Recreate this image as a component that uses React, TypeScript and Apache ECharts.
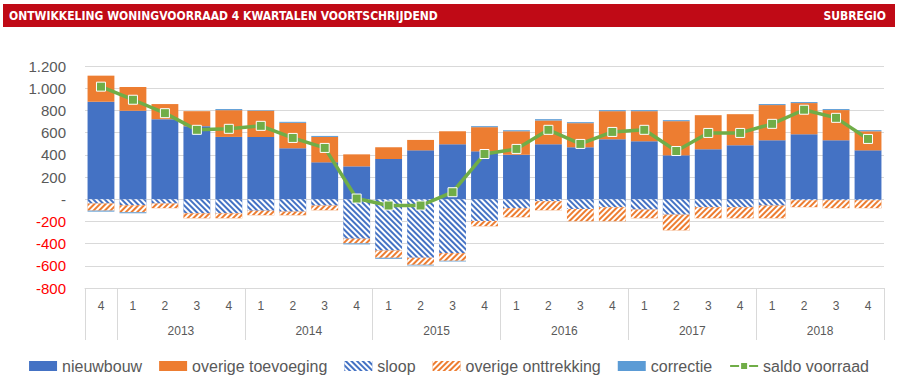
import React, { useEffect, useRef } from "react";
import * as echarts from "echarts";

const quarters = ["4", "1", "2", "3", "4", "1", "2", "3", "4", "1", "2", "3", "4", "1", "2", "3", "4", "1", "2", "3", "4", "1", "2", "3", "4"];
const years = ["2013", "2014", "2015", "2016", "2017", "2018"];

const nieuwbouw = [878, 796, 721, 658, 561, 561, 459, 332, 296, 362, 440, 495, 431, 401, 495, 468, 540, 522, 395, 450, 486, 531, 585, 531, 440];
const overigeToevoeging = [235, 215, 136, 135, 241, 236, 229, 229, 108, 106, 94, 117, 218, 211, 214, 217, 253, 271, 308, 307, 280, 317, 281, 272, 172];
const sloop = [-39, -54, -39, -127, -127, -103, -112, -57, -356, -462, -528, -486, -196, -81, -18, -88, -72, -94, -139, -72, -72, -57, -9, -9, -9];
const overigeOnttrekking = [-64, -64, -42, -45, -45, -42, -33, -43, -42, -66, -63, -69, -48, -82, -82, -111, -127, -78, -142, -100, -100, -115, -63, -72, -72];
const correctie = [-9, -9, 0, 0, 10, 5, 9, 9, -9, -9, -6, -6, 9, 10, 12, 9, 9, 9, 9, 0, 0, 9, 9, 9, 10];
const saldoVoorraad = [1014, 896, 775, 625, 634, 661, 552, 462, 6, -57, -57, 63, 407, 453, 625, 498, 606, 625, 434, 597, 597, 679, 806, 733, 543];

const FONT = "'Liberation Sans', Arial, sans-serif";
const GRAY = "#595959";

function fmt(v: number): string {
  if (v === 0) return "-";
  const s = String(Math.abs(v)).replace(/\B(?=(\d{3})+(?!\d))/g, ".");
  return v < 0 ? `{neg|-${s}}` : s;
}

export default function App() {
  const ref = useRef<HTMLDivElement>(null);
  useEffect(() => {
    if (!ref.current) return;
    const chart = echarts.init(ref.current, null, { renderer: "svg" });
    const yearLabel: Record<number, string> = {};
    years.forEach((y, k) => {
      yearLabel[3 + 4 * k] = y;
    });
    const barBase = {
      type: "bar",
      stack: "a",
      barCategoryGap: "16%",
      xAxisIndex: 0,
      yAxisIndex: 0,
    };
    const headFont = "'Liberation Sans Narrow', 'DejaVu Sans Condensed', sans-serif";
    chart.setOption({
      animation: false,
      textStyle: { fontFamily: FONT },
      grid: { left: 85, right: 14, top: 66, bottom: 97 },
      graphic: [
        { type: "rect", shape: { x: 3, y: 4, width: 892, height: 23 }, style: { fill: "#C00A16" } },
        {
          type: "text",
          x: 9,
          y: 16,
          style: {
            text: "ONTWIKKELING WONINGVOORRAAD 4 KWARTALEN VOORTSCHRIJDEND",
            fill: "#fff",
            fontFamily: headFont,
            fontWeight: "bold",
            fontSize: 12,
            verticalAlign: "middle",
          },
        },
        {
          type: "text",
          x: 886,
          y: 16,
          style: {
            text: "SUBREGIO",
            fill: "#fff",
            fontFamily: headFont,
            fontWeight: "bold",
            fontSize: 12,
            align: "right",
            verticalAlign: "middle",
          },
        },
      ],
      legend: {
        top: 353,
        left: "center",
        itemGap: 17,
        itemWidth: 28,
        itemHeight: 10,
        textStyle: { fontSize: 16, color: GRAY, fontFamily: FONT },
        data: [
          { name: "nieuwbouw", icon: "rect" },
          { name: "overige toevoeging", icon: "rect" },
          { name: "sloop", icon: "rect" },
          { name: "overige onttrekking", icon: "rect" },
          { name: "correctie", icon: "rect" },
          { name: "saldo voorraad" },
        ],
      },
      xAxis: [
        {
          type: "category",
          data: quarters,
          position: "bottom",
          axisLine: { onZero: false, lineStyle: { color: "#D9D9D9" } },
          axisTick: {
            show: true,
            interval: (i: number) => i === 0 || (i - 1) % 4 === 0,
            length: 52,
            lineStyle: { color: "#D9D9D9", width: 1 },
          },
          axisLabel: { interval: 0, margin: 12, fontSize: 12, color: GRAY },
        },
        {
          type: "value",
          min: 0,
          max: 25,
          interval: 1,
          position: "bottom",
          axisLine: { show: false, onZero: false },
          axisTick: { show: false },
          splitLine: { show: false },
          axisLabel: {
            margin: 37,
            fontSize: 12,
            color: GRAY,
            hideOverlap: false,
            formatter: (v: number) => yearLabel[v] ?? "",
          },
        },
      ],
      yAxis: {
        type: "value",
        min: -800,
        max: 1200,
        interval: 200,
        axisLine: { show: false },
        axisTick: { show: false },
        splitLine: { lineStyle: { color: "#D9D9D9" } },
        axisLabel: {
          margin: 19,
          fontSize: 15,
          color: GRAY,
          formatter: fmt,
          rich: { neg: { color: "#FF0000", fontSize: 15 } },
        },
      },
      series: [
        { ...barBase, name: "nieuwbouw", data: nieuwbouw, itemStyle: { color: "#4472C4" } },
        { ...barBase, name: "overige toevoeging", data: overigeToevoeging, itemStyle: { color: "#ED7D31" } },
        {
          ...barBase,
          name: "sloop",
          data: sloop,
          itemStyle: {
            color: "#4472C4",
            decal: { symbol: "rect", symbolSize: 1, color: "#FFFFFF", dashArrayX: [1, 0], dashArrayY: [2, 2], rotation: Math.PI / 4 },
          },
        },
        {
          ...barBase,
          name: "overige onttrekking",
          data: overigeOnttrekking,
          itemStyle: {
            color: "#ED7D31",
            decal: { symbol: "rect", symbolSize: 1, color: "#FFFFFF", dashArrayX: [1, 0], dashArrayY: [2, 2], rotation: -Math.PI / 4 },
          },
        },
        { ...barBase, name: "correctie", data: correctie, itemStyle: { color: "#5B9BD5" } },
        {
          type: "line",
          name: "saldo voorraad",
          data: saldoVoorraad,
          xAxisIndex: 0,
          yAxisIndex: 0,
          z: 5,
          symbol: "rect",
          symbolSize: 9,
          lineStyle: { color: "#70AD47", width: 3.5 },
          itemStyle: { color: "#70AD47", borderColor: "#FFFFFF", borderWidth: 1 },
        },
      ],
    });
    return () => chart.dispose();
  }, []);
  return <div ref={ref} style={{ position: "absolute", left: 0, top: 0, width: 898, height: 385 }} />;
}
